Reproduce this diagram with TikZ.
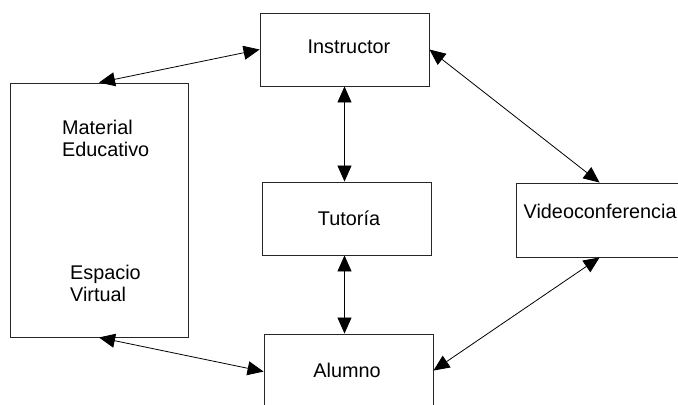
\documentclass[tikz,border=0pt]{standalone}
\usepackage{fontspec}
\setmainfont{Liberation Sans}
\usetikzlibrary{arrows.meta}
\begin{document}
\begin{tikzpicture}[x=1bp,y=-1bp,
  box/.style={draw=black!85, line width=0.9bp, rectangle, inner sep=0pt},
  lbl/.style={inner sep=0pt, font=\fontsize{19.9}{22.5}\selectfont},
  link/.style={line width=0.8bp, {Triangle[length=16bp,width=14bp]}-{Triangle[length=16bp,width=14bp]}}]
  \useasboundingbox (0,0) rectangle (678,404);
  \clip (0,0) rectangle (678,404);
  \fill[white] (0,0) rectangle (678,404);

  % boxes
  \node[box, minimum width=178bp, minimum height=254bp] (mat) at (99,210) {};
  \node[box, minimum width=169bp, minimum height=73bp] (ins) at (344.5,49.5) {};
  \node[box, minimum width=169bp, minimum height=73bp] (tut) at (346.5,218.5) {};
  \node[box, minimum width=180bp, minimum height=74bp] (vid) at (606,220) {};
  \node[box, minimum width=169bp, minimum height=90bp] (alu) at (348.5,379) {};

  % labels
  \node[lbl, anchor=base] (tinst) at (349,53) {Instructor};
  \node[lbl, anchor=base] (ttut) at (349,225) {Tutoría};
  \node[lbl, anchor=base] (talu) at (347,377) {Alumno};
  \node[lbl, anchor=base west] (tvid) at (523.5,218) {Videoconferencia};
  \node[lbl, anchor=north west, align=left] (tmat) at (62,119.5) {Material\\Educativo};
  \node[lbl, anchor=north west, align=left] (tesp) at (70,264.5) {Espacio\\Virtual};

  % connectors
  \coordinate (vidtop) at ([xshift=84bp]vid.north west);
  \coordinate (vidbot) at ([xshift=84bp]vid.south west);
  \coordinate (alur) at ([yshift=-37bp]alu.north east);
  \coordinate (alul) at ([yshift=-38bp]alu.north west);
  \draw[link] (mat.north) -- (ins.west);
  \draw[link] (ins.south) -- (ins.south |- tut.north);
  \draw[link] (ins.east) -- (vidtop);
  \draw[link] (ins.south |- tut.south) -- (ins.south |- alu.north);
  \draw[link] (vidbot) -- (alur);
  \draw[link] (mat.south) -- (alul);
\end{tikzpicture}
\end{document}
